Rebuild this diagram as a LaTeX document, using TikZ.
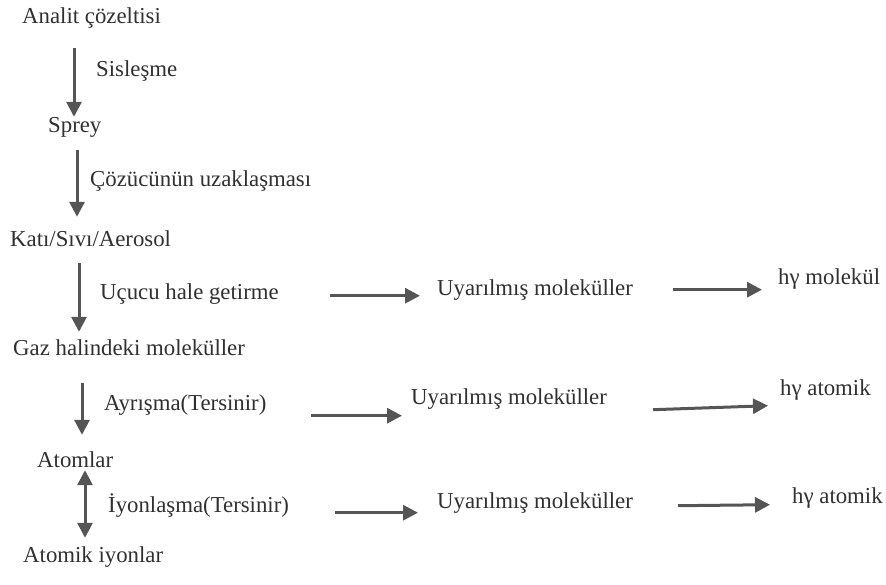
\documentclass[tikz,border=0pt]{standalone}
\usepackage{fontspec}
\setmainfont{Liberation Serif}
\usepackage{tikz}
\usetikzlibrary{arrows.meta}
\definecolor{ink}{HTML}{303030}
\definecolor{arrgray}{HTML}{555555}
\tikzset{
  ptxt/.style={inner sep=0pt, anchor=base west, text height=15pt, text depth=5pt,
    text=ink, font=\fontsize{22.8}{26}\selectfont},
  parr/.style={draw=arrgray, line width=3pt, -{Triangle[length=15pt,width=15pt]}}
}
\newcommand{\ptxt}[4]{\node[ptxt] (#1) at (#2,#3) {#4};}
\newcommand{\pdown}[5]{%
  \draw[parr] ([yshift=#4]#1.south -| #3,0) -- ([yshift=#5]#2.north -| #3,0);}
\newcommand{\pright}[6]{%
  \draw[parr] ([yshift=#5]#1.mid east -| #3,0) -- ([yshift=#6]#2.mid west -| #4,0);}

\begin{document}
\begin{tikzpicture}[x=1pt,y=-1pt]
  \useasboundingbox (0,0) rectangle (886,585);
  % main chain
  \ptxt{analit}{22}{24}{Analit çözeltisi}
  \ptxt{sis}{96}{77}{Sisleşme}
  \ptxt{sprey}{48}{133}{Sprey}
  \ptxt{cozucu}{90}{187}{Çözücünün uzaklaşması}
  \ptxt{kati}{10}{247}{Katı/Sıvı/Aerosol}
  \ptxt{ucucu}{100}{299}{Uçucu hale getirme}
  \ptxt{gaz}{13}{355}{Gaz halindeki moleküller}
  \ptxt{ayr}{104}{410}{Ayrışma(Tersinir)}
  \ptxt{atom}{37}{467}{Atomlar}
  \ptxt{iyon}{108}{512}{İyonlaşma(Tersinir)}
  \ptxt{atik}{23}{562}{Atomik iyonlar}
  % side rows
  \ptxt{uyA}{437}{296}{Uyarılmış moleküller}
  \ptxt{hvA}{778}{285}{hγ molekül}
  \ptxt{uyB}{411}{404}{Uyarılmış moleküller}
  \ptxt{hvB}{780}{395}{hγ atomik}
  \ptxt{uyC}{437}{508}{Uyarılmış moleküller}
  \ptxt{hvC}{792}{503}{hγ atomik}
  % vertical arrows
  \pdown{analit}{sprey}{74}{-19}{1}
  \pdown{sprey}{kati}{77}{-12}{15}
  \pdown{kati}{gaz}{79}{-11}{8}
  \pdown{gaz}{atom}{82}{-23}{17}
  \draw[parr, {Triangle[length=15pt,width=15pt]}-{Triangle[length=15pt,width=15pt]}]
    ([yshift=2]atom.south -| 85,0) -- ([yshift=9]atik.north -| 85,0);
  % horizontal arrows
  \pright{ucucu}{uyA}{330}{420}{1}{-2}
  \pright{uyA}{hvA}{673}{762}{4}{-7}
  \pright{ayr}{uyB}{311}{402}{-8}{-14}
  \pright{uyB}{hvB}{653}{768}{-8}{-13}
  \pright{iyon}{uyC}{335}{418}{-3}{-7}
  \pright{uyC}{hvC}{678}{770}{0}{-4}
\end{tikzpicture}
\end{document}
